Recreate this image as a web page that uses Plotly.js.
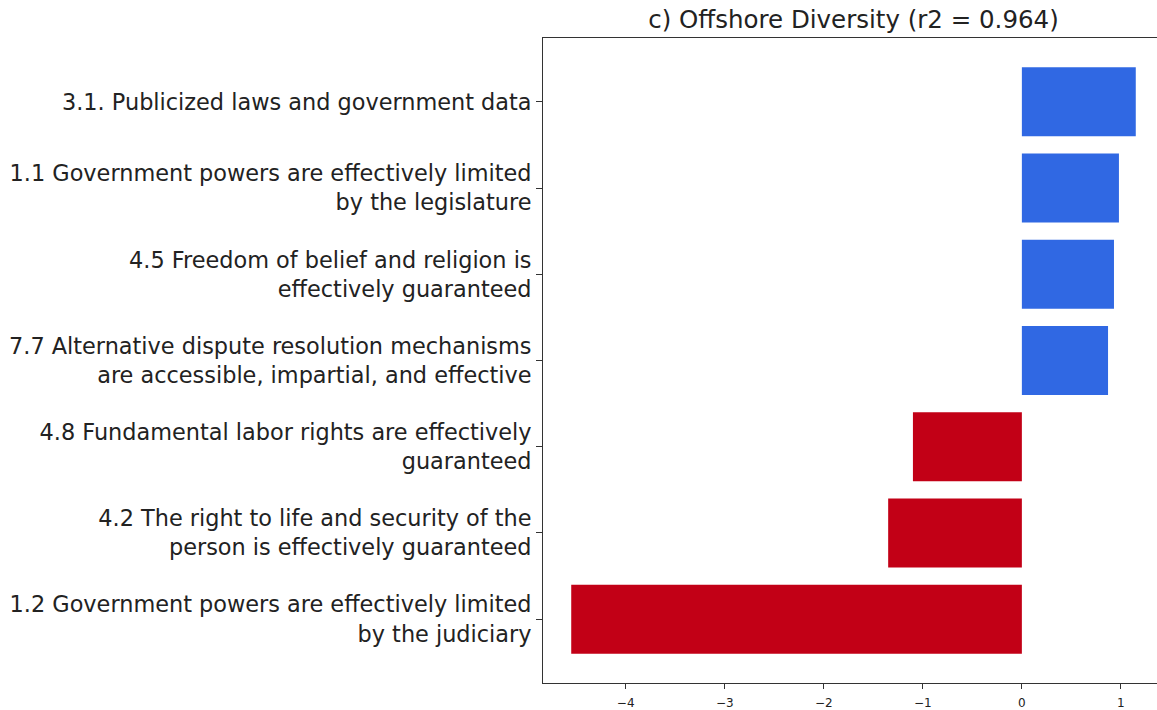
<!DOCTYPE html>
<html>
<head>
<meta charset="utf-8">
<script src="https://cdn.plot.ly/plotly-3.0.1.min.js"></script>
<style>
html, body { margin:0; padding:0; overflow:hidden; background:#fff; }
#chart { width:1170px; height:710px; }
</style>
</head>
<body>
<div id="chart"></div>
<script>
const categories = [
  "3.1. Publicized laws and government data",
  "1.1 Government powers are effectively limited<br>by the legislature",
  "4.5 Freedom of belief and religion is<br>effectively guaranteed",
  "7.7 Alternative dispute resolution mechanisms<br>are accessible, impartial, and effective",
  "4.8 Fundamental labor rights are effectively<br>guaranteed",
  "4.2 The right to life and security of the<br>person is effectively guaranteed",
  "1.2 Government powers are effectively limited<br>by the judiciary"
];
const values = [1.15, 0.98, 0.93, 0.87, -1.10, -1.35, -4.55];
const xTicks = [-4, -3, -2, -1, 0, 1];
const xTickLabels = ["\u22124", "\u22123", "\u22122", "\u22121", "0", "1"];
const titleText = "c) Offshore Diversity (r2 = 0.964)";

const blue = "#3068e3";
const red = "#c20016";

const trace = {
  type: "bar",
  orientation: "h",
  x: values,
  y: categories,
  width: 0.8,
  marker: { color: values.map(v => v >= 0 ? blue : red), line: { width: 0 } },
  hoverinfo: "x+y"
};

const layout = {
  width: 1170,
  height: 710,
  margin: { l: 543, r: 6, t: 38, b: 27 },
  paper_bgcolor: "#fff",
  plot_bgcolor: "#fff",
  showlegend: false,
  title: {
    text: titleText,
    x: 0.5, xref: "paper", xanchor: "center",
    y: 1, yref: "paper", yanchor: "bottom", pad: { b: 10 },
    font: { family: "DejaVu Sans", size: 24.5, color: "#222" }
  },
  xaxis: {
    range: [-4.835, 1.435],
    tickvals: xTicks,
    ticktext: xTickLabels,
    ticks: "outside", ticklen: 5, tickcolor: "#333", tickwidth: 1,
    ticklabelstandoff: 4,
    showgrid: false, zeroline: false,
    showline: true, linecolor: "#333", linewidth: 1, mirror: true,
    tickfont: { family: "DejaVu Sans", size: 12, color: "#222" }
  },
  yaxis: {
    type: "category",
    categoryorder: "array",
    categoryarray: categories,
    range: [6.74, -0.74],
    ticks: "outside", ticklen: 6, tickcolor: "#333", tickwidth: 1,
    showgrid: false, zeroline: false,
    showline: true, linecolor: "#333", linewidth: 1, mirror: true,
    tickfont: { family: "DejaVu Sans", size: 22.4, color: "#222" }
  },
  font: { family: "DejaVu Sans" }
};

Plotly.newPlot("chart", [trace], layout, { displayModeBar: false, staticPlot: true });
</script>
</body>
</html>
